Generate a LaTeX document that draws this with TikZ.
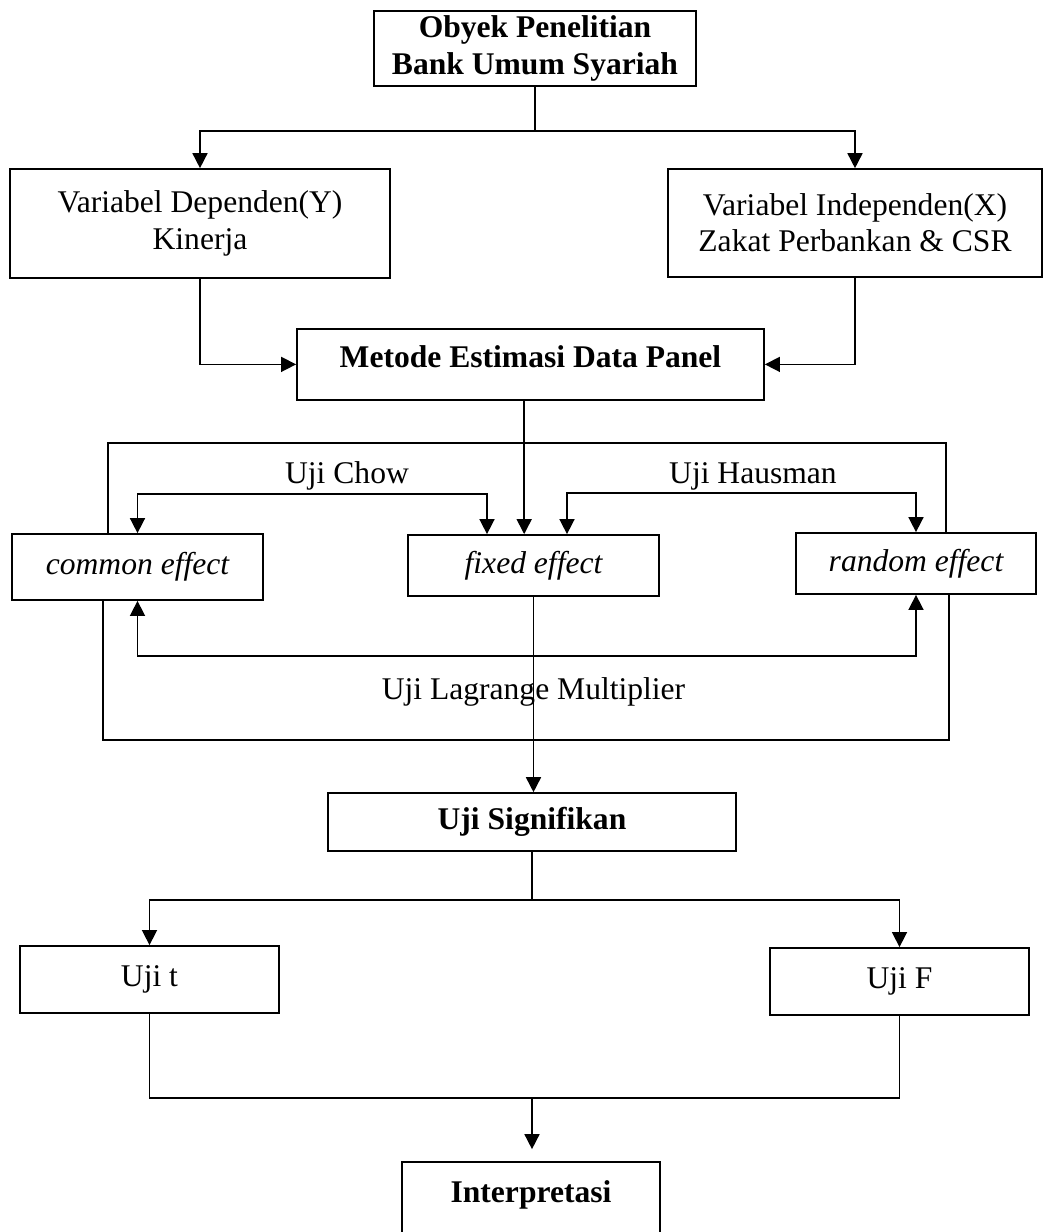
\documentclass[tikz,border=0pt]{standalone}
\usepackage{fontspec}
\setmainfont{Liberation Serif}
\usetikzlibrary{arrows.meta}
\tikzset{
	box/.style={draw, line width=0.65pt, align=center, inner sep=2pt},
	arr/.style={-{Triangle[length=5.7pt,width=5.7pt]}},
	dblarr/.style={{Triangle[length=5.7pt,width=5.7pt]}-{Triangle[length=5.7pt,width=5.7pt]}}
}

\begin{document}
\begin{tikzpicture}[x=0.38pt, y=-0.38pt, line width=0.6pt, font=\fontsize{12}{13.8}\selectfont]
		\useasboundingbox (0,0) rectangle (1044,1232);
		\node[box, minimum width=122.4pt, minimum height=28.5pt, font=\fontsize{12}{13.8}\selectfont\bfseries] (obyek) at (535,48.5) {Obyek Penelitian\\Bank Umum Syariah};
		\node[box, minimum width=144.4pt, minimum height=41.4pt] (dep) at (200,223.5) {Variabel Dependen(Y)\\Kinerja};
		\node[box, minimum width=142.1pt, minimum height=41pt] (indep) at (855,223) {Variabel Independen(X)\\Zakat Perbankan \& CSR};
		\node[box, anchor=north, minimum width=177.5pt, text height=14.8pt, text depth=12.2pt, inner ysep=0pt, font=\fontsize{12}{13.8}\selectfont\bfseries] (metode) at (530.5,328) {Metode Estimasi Data Panel};
		\node[box, minimum width=95.4pt, minimum height=25.1pt, font=\fontsize{12}{13.8}\selectfont\itshape] (common) at (137.5,567) {common effect};
		\node[box, minimum width=95.4pt, minimum height=23.2pt, font=\fontsize{12}{13.8}\selectfont\itshape] (fixed) at (533.5,565.5) {fixed effect};
		\node[box, minimum width=91.2pt, minimum height=23.2pt, font=\fontsize{12}{13.8}\selectfont\itshape] (random) at (916,563.5) {random effect};
		\node[box, minimum width=155pt, minimum height=22pt, font=\fontsize{12}{13.8}\selectfont\bfseries] (sig) at (532,822) {Uji Signifikan};
		\node[box, minimum width=98.4pt, minimum height=25.5pt] (ujit) at (149.5,979.5) {Uji t};
		\node[box, minimum width=98.4pt, minimum height=25.5pt] (ujif) at (899.5,981.5) {Uji F};
		\node[box, anchor=north, minimum width=98pt, text height=15.6pt, text depth=40pt, inner ysep=0pt, font=\fontsize{12}{13.8}\selectfont\bfseries] (interp) at (531,1161) {Interpretasi};
		\node[anchor=base] (chow) at (347,483) {Uji Chow};
		\node[anchor=base] (hausman) at (753,483) {Uji Hausman};
		\node[anchor=base] (lagrange) at (533.5,699) {Uji Lagrange Multiplier};
		\coordinate (bus1) at (532,131);
		\coordinate (frTL) at (108,443);
		\coordinate (frTR) at (946,443);
		\coordinate (frBL) at (103,740);
		\coordinate (frBR) at (949,740);
		\coordinate (chowR) at (487,494);
		\coordinate (hausL) at (567,493);
		\coordinate (bus2) at (532,900);
		\coordinate (merge) at (532,1098);
		\draw (obyek.south) -- (obyek.south |- bus1);
		\draw[arr] (obyek.south |- bus1) -| (dep.north);
		\draw[arr] (obyek.south |- bus1) -| (indep.north);
		\draw[arr] (dep.south) |- (metode.west);
		\draw[arr] (indep.south) |- (metode.east);
		\draw (common.north -| frTL) -- (frTL) -- (frTR) -- (random.north -| frTR);
		\draw (common.south -| frBL) -- (frBL) -- (frBR) -- (random.south -| frBR);
		\draw[arr] ([xshift=-2.4pt]metode.south) -- ([xshift=-2.4pt]metode.south |- fixed.north);
		\draw[dblarr] (common.north) |- (chowR) -- (chowR |- fixed.north);
		\draw[dblarr] (random.north) |- (hausL) -- (hausL |- fixed.north);
		\draw[dblarr] (common.south) -- ++(0,55) -| (random.south);
		\draw[arr] (fixed.south) -- (fixed.south |- sig.north);
		\draw (sig.south) -- (sig.south |- bus2);
		\draw[arr] (sig.south |- bus2) -| (ujit.north);
		\draw[arr] (sig.south |- bus2) -| (ujif.north);
		\draw (ujit.south) |- (merge) -| (ujif.south);
		\draw[arr, shorten >=4.5pt] (merge) -- (merge |- interp.north);
		\end{tikzpicture}
\end{document}
